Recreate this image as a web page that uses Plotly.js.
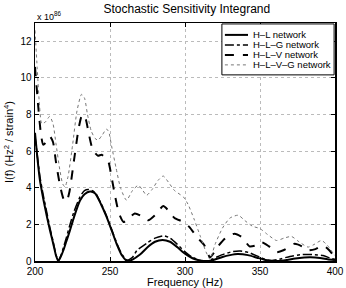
<!DOCTYPE html>
<html><head><meta charset="utf-8">
<script src="https://cdn.plot.ly/plotly-3.0.1.min.js"></script>
<style>html,body{margin:0;padding:0;background:#fff}#c{width:346px;height:288px}</style>
</head><body><div id="c"></div>
<script>
// values in units of 1e86 Hz^2/strain^4
const hlX = [200,201.5,203.3,205.5,208,210,212,214,215.5,217,219,221,223.3,226,230,233,236.7,240,244,247.8,251,254.4,258,261.5,265,270,275,280,285,290,295,300,305,310,316,320,325,330,335,342,348,353,358,362,368,375,383,390,395,400];
const hlY = [7.0,5.7,4.4,3.4,2.4,1.67,1.0,0.3,0,0.2,0.6,1.1,1.67,2.4,3.3,3.65,3.8,3.7,3.1,2.4,1.7,0.94,0.3,0,0.08,0.35,0.75,1.05,1.15,1.05,0.75,0.4,0.15,0.03,0,0.08,0.22,0.32,0.38,0.32,0.18,0.07,0.01,0,0.06,0.15,0.2,0.17,0.1,0.05];
const hlgX = [200,201.5,203.3,205.5,208,210,212,214,215.5,217,219,221,223,226,230,233,236,240,244,248,251,254.4,258,261.5,265,268,275,280,286,290,295,300,305,310,314,318,325,332,337,343,350,355,358,363,370,378,385,392,397,400];
const hlgY = [6.8,5.8,4.6,3.6,2.6,1.8,1.1,0.35,0,0.25,0.75,1.3,1.9,2.7,3.5,3.85,3.9,3.75,3.15,2.4,1.75,1.0,0.35,0.05,0.2,0.58,1.0,1.25,1.38,1.25,0.9,0.5,0.2,0.03,0,0.1,0.35,0.52,0.55,0.45,0.2,0.05,0.02,0.1,0.25,0.35,0.35,0.3,0.15,0.1];
const hlvX = [200,202,204,205.5,207.5,210,212,214,216.5,219,221,223,226,229,231,232.5,234,236,238,240,242,244.5,247,249,251,253.5,256,259,262,266.5,271,275.5,280,285.5,289,293,299,303,308,313,316.7,322,327,333,338,343,347,351,356,361,366,373,378,382,387,392,396,400];
const hlvY = [10.6,8.6,6.9,6.35,6.5,6.8,6.5,5.4,4.2,3.4,3.25,3.8,5.5,7.2,7.9,8.0,7.7,6.9,6.2,5.9,5.75,5.8,5.6,5.4,4.6,3.5,2.6,2.13,2.3,2.6,2.45,2.22,2.5,3.0,2.75,2.35,2.13,1.85,1.3,0.85,0.2,0.8,1.25,1.49,1.3,0.8,0.85,1.03,0.8,0.48,0.6,0.94,0.8,0.58,0.65,0.85,0.6,0.2];
const hlvgX = [200,201.5,203,204.5,207,209.8,212,214,216.5,218.5,220,222,225,228,231,233,235,237.5,240,242,245,247.5,249,251,254,257,261,265,268.9,271.5,274.4,278,282,285.5,289,293,298.9,302,306,310,314,316.7,320,325,330,335.5,340,345,350,355,361,366,371,376,382,386,391,395,399,400];
const hlvgY = [12.6,10.5,8.5,7.5,7.6,7.9,7.5,6.4,5.0,4.2,4.05,4.6,6.3,8.2,9.1,8.9,8.0,7.1,6.7,6.6,6.9,7.2,7.1,6.3,5.1,4.0,3.32,3.85,4.14,3.9,3.59,3.9,4.4,4.64,4.3,3.85,3.5,3.1,2.3,1.4,0.5,0.1,0.9,1.8,2.35,2.5,2.2,1.9,1.77,1.45,1.12,1.25,1.34,1.05,0.76,0.9,1.12,0.85,0.4,0.3];
const names = ['H\u2013L network','H\u2013L\u2013G network','H\u2013L\u2013V network','H\u2013L\u2013V\u2013G network'];
const xTicks = [200,250,300,350,400];
const yTicks = [0,2,4,6,8,10,12];

const styles = [
  {dash:'solid',w:2,col:'#000'},
  {dash:'dashdot',w:1.5,col:'#000'},
  {dash:'dash',w:2,col:'#000'},
  {dash:'dot',w:1,col:'#777'}
];
const series = [[hlX,hlY],[hlgX,hlgY],[hlvX,hlvY],[hlvgX,hlvgY]];
const data = series.map((s,i)=>({x:s[0],y:s[1],name:names[i],type:'scatter',mode:'lines',showlegend:false,
  line:{color:styles[i].col,width:styles[i].w,dash:styles[i].dash,shape:'spline',smoothing:0.6},hoverinfo:'skip'}));

// compact manual legend (paper coords of plot area)
const lg = {x0:0.623,x1:0.997,y0:0.782,y1:0.996,lx0:0.633,lx1:0.71,tx:0.722,rows:[0.950,0.908,0.866,0.824]};
const shapes = [{type:'rect',xref:'paper',yref:'paper',x0:lg.x0,x1:lg.x1,y0:lg.y0,y1:lg.y1,
  line:{color:'#000',width:1},fillcolor:'#fff',layer:'above'}];
const annotations = [{text:'x 10<sup>86</sup>',xref:'paper',yref:'paper',x:0,y:1,xanchor:'left',yanchor:'bottom',
    showarrow:false,font:{size:9},yshift:-1}];
names.forEach((n,i)=>{
  shapes.push({type:'line',xref:'paper',yref:'paper',x0:lg.lx0,x1:lg.lx1,y0:lg.rows[i],y1:lg.rows[i],
    line:{color:styles[i].col,width:styles[i].w,dash:styles[i].dash},layer:'above'});
  annotations.push({text:n,xref:'paper',yref:'paper',x:lg.tx,y:lg.rows[i],xanchor:'left',yanchor:'middle',
    showarrow:false,font:{size:9.5},borderpad:0});
});

const ax = {showline:true,linecolor:'#000',linewidth:1.5,mirror:'ticks',ticks:'inside',ticklen:4,tickcolor:'#000',
  showgrid:true,gridcolor:'#bbb',griddash:'dot',gridwidth:1,zeroline:false,tickfont:{family:'Liberation Sans, Arial',size:10,color:'#000'}};
const layout = {
  width:346,height:288,margin:{l:35,r:11,t:23,b:27},paper_bgcolor:'#fff',plot_bgcolor:'#fff',
  font:{family:'Liberation Sans, Arial',color:'#000'},
  title:{text:'Stochastic Sensitivity Integrand',font:{size:12},x:0.54,xanchor:'center',y:0.985,yanchor:'top'},
  xaxis:Object.assign({},ax,{range:[200,400],tickvals:xTicks,ticktext:xTicks.map(String),
    title:{text:'Frequency (Hz)',font:{size:11},standoff:0}}),
  yaxis:Object.assign({},ax,{range:[0,13],tickvals:yTicks,ticktext:yTicks.map(String),
    title:{text:'I(f) (Hz<sup>2</sup> / strain<sup>4</sup>)',font:{size:11},standoff:4}}),
  shapes:shapes,annotations:annotations
};
Plotly.newPlot('c',data,layout,{staticPlot:true,displayModeBar:false});
</script></body></html>
